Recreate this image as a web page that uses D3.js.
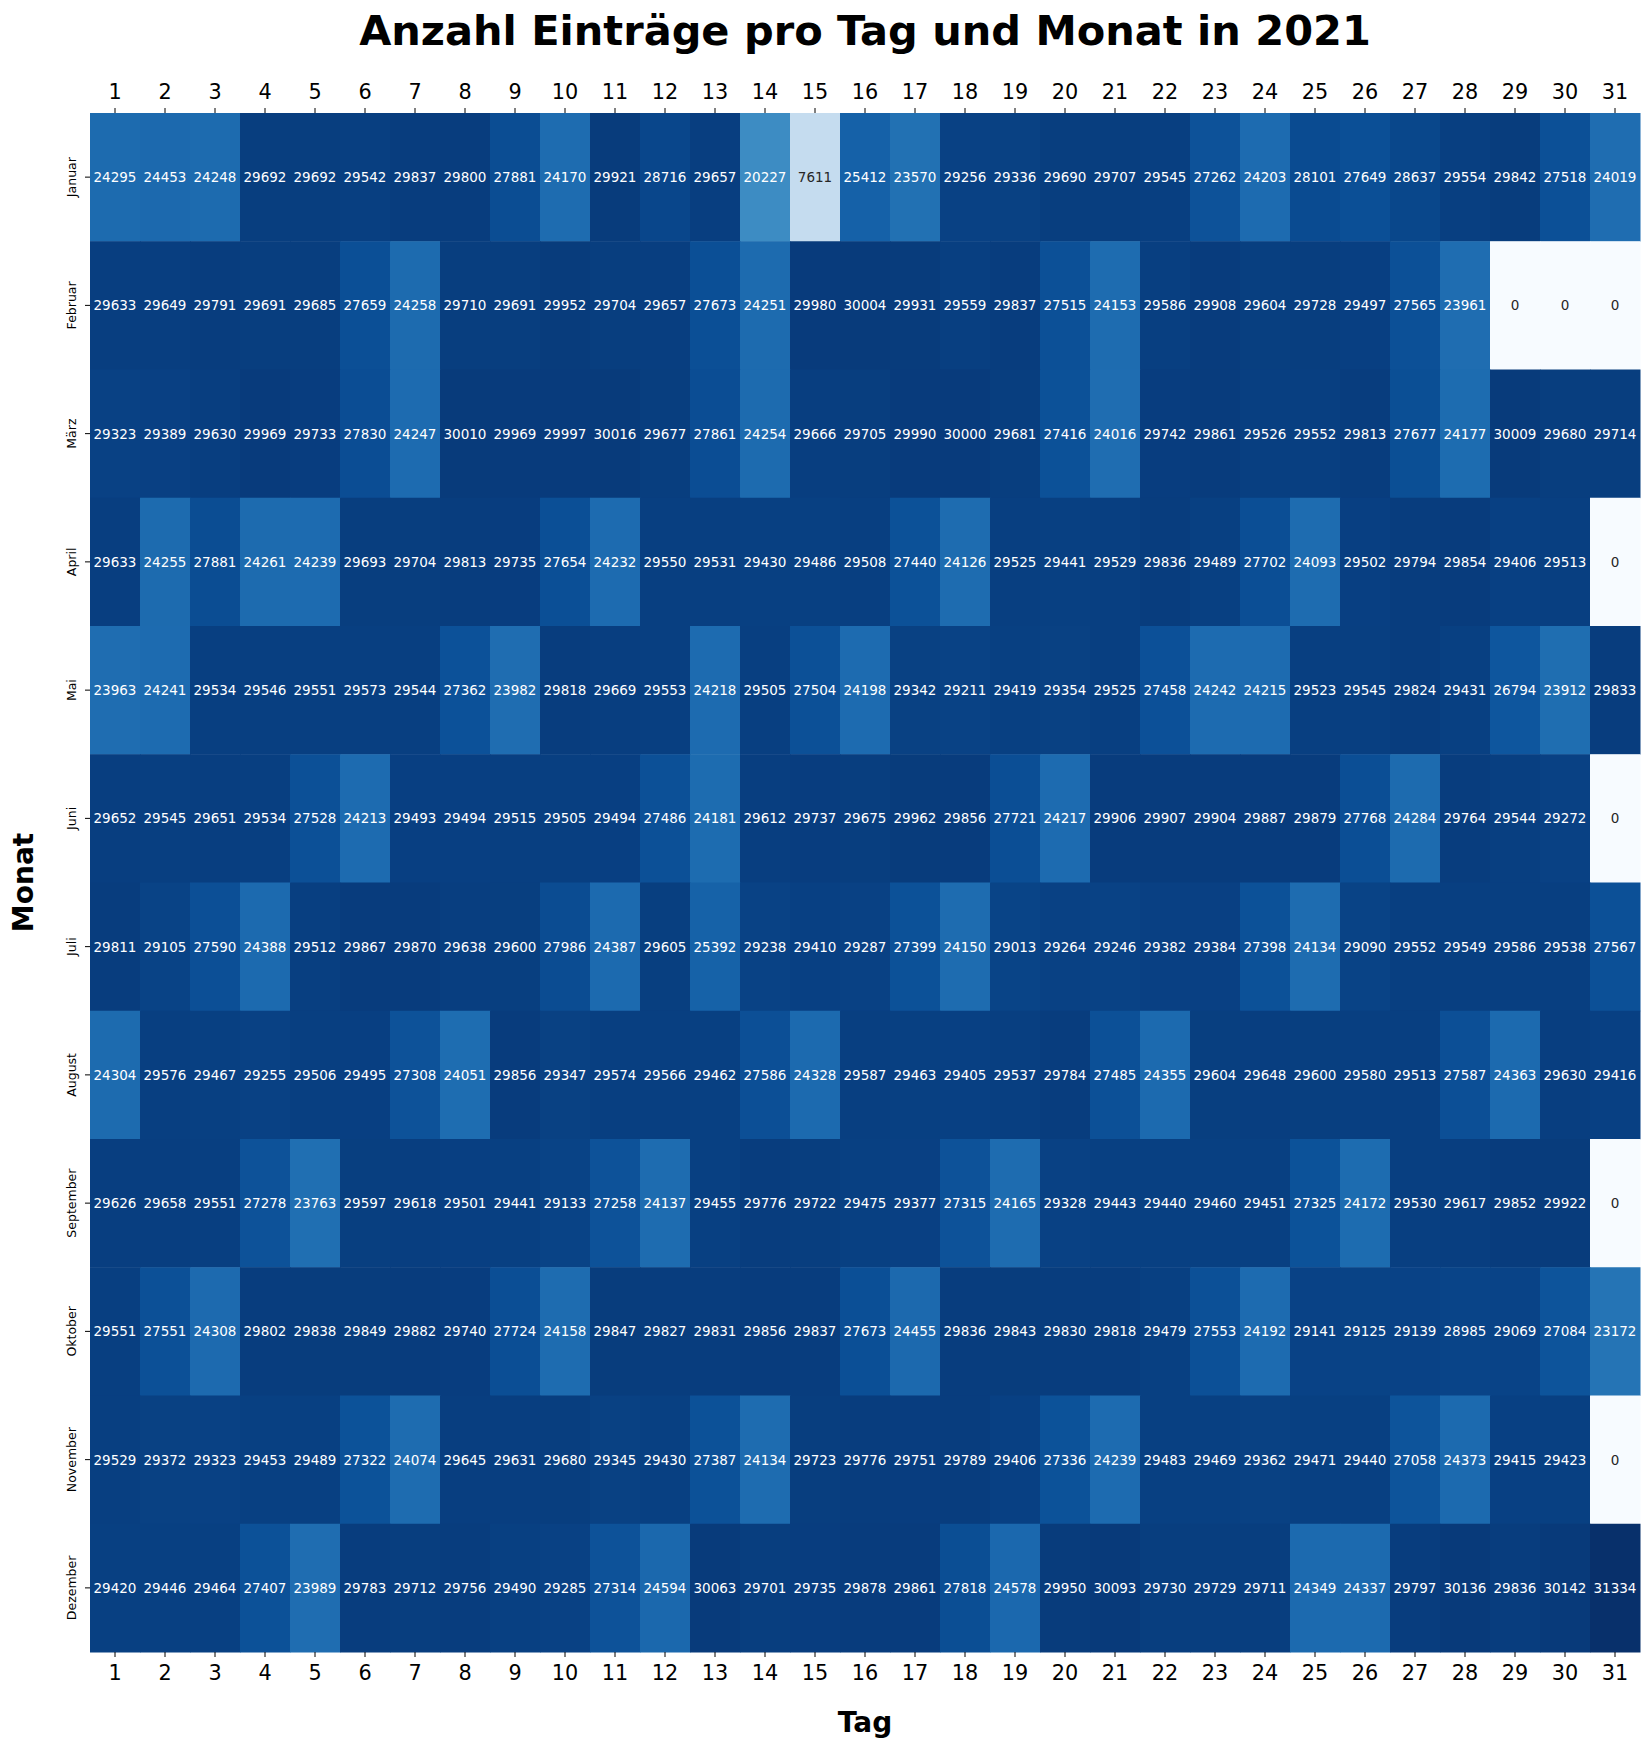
<!DOCTYPE html>
<html>
<head>
    <title>Anzahl Einträge pro Tag und Monat in 2021</title>
    <script src="https://d3js.org/d3.v7.min.js"></script>
    <style>
        body { margin: 0; background: #ffffff; }
        text { font-family: "DejaVu Sans", sans-serif; }
    </style>
</head>
<body>
    <div id="vis"></div>
    <script>
        // Tage (Spalten) und Monate (Zeilen)
        var days = d3.range(1, 32);
        var months = ["Januar", "Februar", "März", "April", "Mai", "Juni",
                      "Juli", "August", "September", "Oktober", "November", "Dezember"];

        // Anzahl Einträge je Monat, Tag 1..31
        var januar    = [24295, 24453, 24248, 29692, 29692, 29542, 29837, 29800, 27881, 24170, 29921, 28716, 29657, 20227, 7611, 25412, 23570, 29256, 29336, 29690, 29707, 29545, 27262, 24203, 28101, 27649, 28637, 29554, 29842, 27518, 24019];
        var februar   = [29633, 29649, 29791, 29691, 29685, 27659, 24258, 29710, 29691, 29952, 29704, 29657, 27673, 24251, 29980, 30004, 29931, 29559, 29837, 27515, 24153, 29586, 29908, 29604, 29728, 29497, 27565, 23961, 0, 0, 0];
        var maerz     = [29323, 29389, 29630, 29969, 29733, 27830, 24247, 30010, 29969, 29997, 30016, 29677, 27861, 24254, 29666, 29705, 29990, 30000, 29681, 27416, 24016, 29742, 29861, 29526, 29552, 29813, 27677, 24177, 30009, 29680, 29714];
        var april     = [29633, 24255, 27881, 24261, 24239, 29693, 29704, 29813, 29735, 27654, 24232, 29550, 29531, 29430, 29486, 29508, 27440, 24126, 29525, 29441, 29529, 29836, 29489, 27702, 24093, 29502, 29794, 29854, 29406, 29513, 0];
        var mai       = [23963, 24241, 29534, 29546, 29551, 29573, 29544, 27362, 23982, 29818, 29669, 29553, 24218, 29505, 27504, 24198, 29342, 29211, 29419, 29354, 29525, 27458, 24242, 24215, 29523, 29545, 29824, 29431, 26794, 23912, 29833];
        var juni      = [29652, 29545, 29651, 29534, 27528, 24213, 29493, 29494, 29515, 29505, 29494, 27486, 24181, 29612, 29737, 29675, 29962, 29856, 27721, 24217, 29906, 29907, 29904, 29887, 29879, 27768, 24284, 29764, 29544, 29272, 0];
        var juli      = [29811, 29105, 27590, 24388, 29512, 29867, 29870, 29638, 29600, 27986, 24387, 29605, 25392, 29238, 29410, 29287, 27399, 24150, 29013, 29264, 29246, 29382, 29384, 27398, 24134, 29090, 29552, 29549, 29586, 29538, 27567];
        var august    = [24304, 29576, 29467, 29255, 29506, 29495, 27308, 24051, 29856, 29347, 29574, 29566, 29462, 27586, 24328, 29587, 29463, 29405, 29537, 29784, 27485, 24355, 29604, 29648, 29600, 29580, 29513, 27587, 24363, 29630, 29416];
        var september = [29626, 29658, 29551, 27278, 23763, 29597, 29618, 29501, 29441, 29133, 27258, 24137, 29455, 29776, 29722, 29475, 29377, 27315, 24165, 29328, 29443, 29440, 29460, 29451, 27325, 24172, 29530, 29617, 29852, 29922, 0];
        var oktober   = [29551, 27551, 24308, 29802, 29838, 29849, 29882, 29740, 27724, 24158, 29847, 29827, 29831, 29856, 29837, 27673, 24455, 29836, 29843, 29830, 29818, 29479, 27553, 24192, 29141, 29125, 29139, 28985, 29069, 27084, 23172];
        var november  = [29529, 29372, 29323, 29453, 29489, 27322, 24074, 29645, 29631, 29680, 29345, 29430, 27387, 24134, 29723, 29776, 29751, 29789, 29406, 27336, 24239, 29483, 29469, 29362, 29471, 29440, 27058, 24373, 29415, 29423, 0];
        var dezember  = [29420, 29446, 29464, 27407, 23989, 29783, 29712, 29756, 29490, 29285, 27314, 24594, 30063, 29701, 29735, 29878, 29861, 27818, 24578, 29950, 30093, 29730, 29729, 29711, 24349, 24337, 29797, 30136, 29836, 30142, 31334];

        var rows = [januar, februar, maerz, april, mai, juni, juli, august, september, oktober, november, dezember];

        // flache Tabelle fuer d3
        var data = [];
        rows.forEach(function(r, i) {
            r.forEach(function(v, j) {
                data.push({"Monat": months[i], "Tag": days[j], "Wert": v});
            });
        });

        var margin = {top: 113, left: 90, bottom: 96, right: 9};
        var width = 1649 - margin.left - margin.right;
        var height = 1748 - margin.top - margin.bottom;

        const svg = d3.select("div#vis")
            .append("svg")
            .attr("width", width + margin.left + margin.right)
            .attr("height", height + margin.top + margin.bottom);

        const g = svg.append("g")
            .attr("transform", "translate(" + margin.left + "," + margin.top + ")");

        var xScale = d3.scaleBand().domain(days).range([0, width]);
        var yScale = d3.scaleBand().domain(months).range([0, height]);

        var vmax = d3.max(data, function(d) { return d.Wert; });
        var color = d3.scaleSequential(d3.interpolateBlues).domain([0, vmax]);

        // wie seaborn: helle Zellen -> dunkler Text
        function luminance(c) {
            var rgb = d3.rgb(c);
            var ch = [rgb.r, rgb.g, rgb.b].map(function(v) {
                v = v / 255;
                return v <= 0.03928 ? v / 12.92 : Math.pow((v + 0.055) / 1.055, 2.4);
            });
            return 0.2126 * ch[0] + 0.7152 * ch[1] + 0.0722 * ch[2];
        }

        g.selectAll("rect.cell")
            .data(data)
            .enter()
            .append("rect")
                .attr("class", "cell")
                .attr("x", function(d) { return xScale(d.Tag); })
                .attr("y", function(d) { return yScale(d.Monat); })
                .attr("width", xScale.bandwidth() + 0.5)
                .attr("height", yScale.bandwidth() + 0.5)
                .attr("fill", function(d) { return color(d.Wert); });

        g.selectAll("text.annot")
            .data(data)
            .enter()
            .append("text")
                .attr("class", "annot")
                .attr("x", function(d) { return xScale(d.Tag) + xScale.bandwidth() / 2; })
                .attr("y", function(d) { return yScale(d.Monat) + yScale.bandwidth() / 2; })
                .attr("text-anchor", "middle")
                .attr("dominant-baseline", "central")
                .attr("font-size", "13.5px")
                .attr("fill", function(d) { return luminance(color(d.Wert)) > 0.408 ? "#262626" : "#ffffff"; })
                .text(function(d) { return d.Wert; });

        // X Achse oben und unten
        var axTop = g.append("g")
            .call(d3.axisTop(xScale).tickSize(5).tickPadding(9));
        var axBottom = g.append("g")
            .attr("transform", "translate(0," + height + ")")
            .call(d3.axisBottom(xScale).tickSize(5).tickPadding(8));
        [axTop, axBottom].forEach(function(ax) {
            ax.select(".domain").remove();
            ax.selectAll("text")
                .attr("font-family", "DejaVu Sans")
                .attr("font-size", "20.8px")
                .attr("fill", "#000");
            ax.selectAll("line").attr("stroke", "#000");
        });

        // Y Achse
        var axLeft = g.append("g")
            .call(d3.axisLeft(yScale).tickSize(5));
        axLeft.select(".domain").remove();
        axLeft.selectAll("line").attr("stroke", "#000");
        axLeft.selectAll("text")
            .attr("x", 0)
            .attr("y", 0)
            .attr("dy", 0)
            .attr("transform", "translate(-14,0) rotate(-90)")
            .attr("text-anchor", "middle")
            .attr("font-family", "DejaVu Sans")
            .attr("font-size", "12.5px")
            .attr("fill", "#000");

        svg.append("text")
            .attr("x", margin.left + width / 2)
            .attr("y", 45)
            .attr("text-anchor", "middle")
            .attr("font-size", "41.5px")
            .attr("font-weight", "bold")
            .text("Anzahl Einträge pro Tag und Monat in 2021");

        svg.append("text")
            .attr("x", margin.left + width / 2)
            .attr("y", 1732)
            .attr("text-anchor", "middle")
            .attr("font-size", "28px")
            .attr("font-weight", "bold")
            .text("Tag");

        svg.append("text")
            .attr("transform", "translate(33," + (margin.top + height / 2) + ") rotate(-90)")
            .attr("text-anchor", "middle")
            .attr("font-size", "28px")
            .attr("font-weight", "bold")
            .text("Monat");
    </script>
</body>
</html>
